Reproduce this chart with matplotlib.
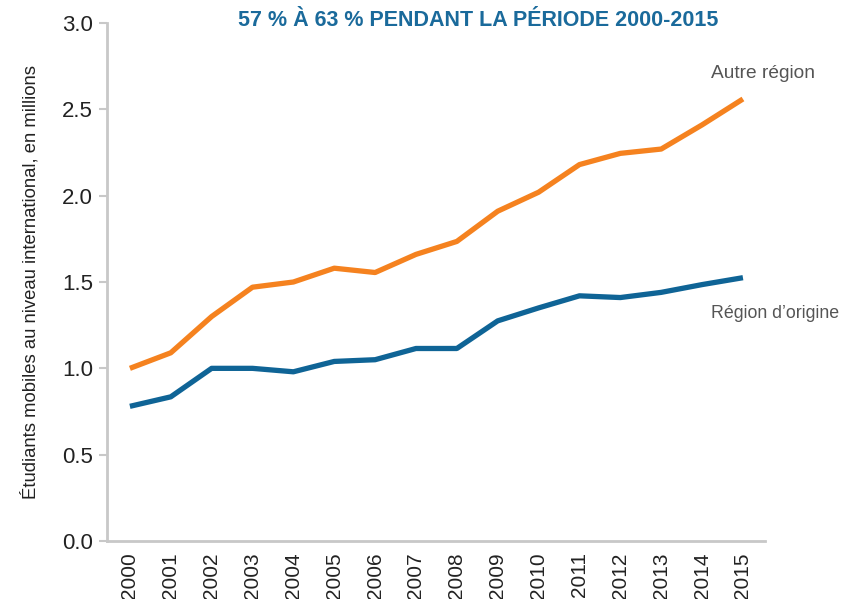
import matplotlib
matplotlib.use("Agg")
import matplotlib.pyplot as plt
from matplotlib import font_manager

years = list(range(2000, 2016))
autre_region = [1.00, 1.09, 1.30, 1.47, 1.50, 1.58, 1.555, 1.66, 1.735, 1.91, 2.02, 2.18, 2.245, 2.27, 2.41, 2.56]
region_origine = [0.78, 0.835, 1.00, 1.00, 0.98, 1.04, 1.05, 1.115, 1.115, 1.275, 1.35, 1.42, 1.41, 1.44, 1.485, 1.525]
yticks = [0.0, 0.5, 1.0, 1.5, 2.0, 2.5, 3.0]
title = "57 % À 63 % PENDANT LA PÉRIODE 2000-2015"
ylabel = "Étudiants mobiles au niveau international, en millions"
label_autre = "Autre région"
label_origine = "Région d’origine"

plt.rcParams['font.family'] = ["Liberation Sans", "DejaVu Sans"]

orange = "#f5821f"
blue = "#0f6496"
axis_gray = "#c8c8c8"
text_gray = "#555555"

fig = plt.figure(figsize=(8.5, 5.99), dpi=100)
ax = fig.add_axes([0.1259, 0.0968, 0.9 - 0.1259, 0.9616 - 0.0968])

ax.plot(years, autre_region, color=orange, lw=3.8, solid_capstyle="butt", solid_joinstyle="round")
ax.plot(years, region_origine, color=blue, lw=3.8, solid_capstyle="butt", solid_joinstyle="round")

ax.set_xlim(1999.44, 2015.54)
ax.set_ylim(0, 3.0)
ax.set_yticks(yticks)
ax.set_yticklabels([f"{v:.1f}" for v in yticks])
ax.set_xticks(years)
ax.set_xticklabels([str(y) for y in years], rotation=90)

for s in ["top", "right"]:
    ax.spines[s].set_visible(False)
for s in ["left", "bottom"]:
    ax.spines[s].set_color(axis_gray)
    ax.spines[s].set_linewidth(2)

ax.tick_params(axis="y", length=6, width=1.5, color=axis_gray, labelsize=16, labelcolor="#222222", pad=4)
ax.tick_params(axis="x", length=0, labelsize=15, labelcolor="#222222", pad=8)

ax.set_ylabel(ylabel, fontsize=13.3, color="#222222", labelpad=16)

fig.text(0.563, 0.966, title, ha="center", va="center", fontsize=15.5, fontweight="bold", color="#1a6a9b")

ax.annotate(label_autre, xy=(2015, autre_region[-1]), xytext=(-23, 18), textcoords="offset points",
            ha="left", va="center", fontsize=13.8, color=text_gray)
ax.annotate(label_origine, xy=(2015, region_origine[-1]), xytext=(-23, -26), textcoords="offset points",
            ha="left", va="center", fontsize=12.8, color=text_gray)

fig.savefig("out.png", dpi=100, facecolor="white")
